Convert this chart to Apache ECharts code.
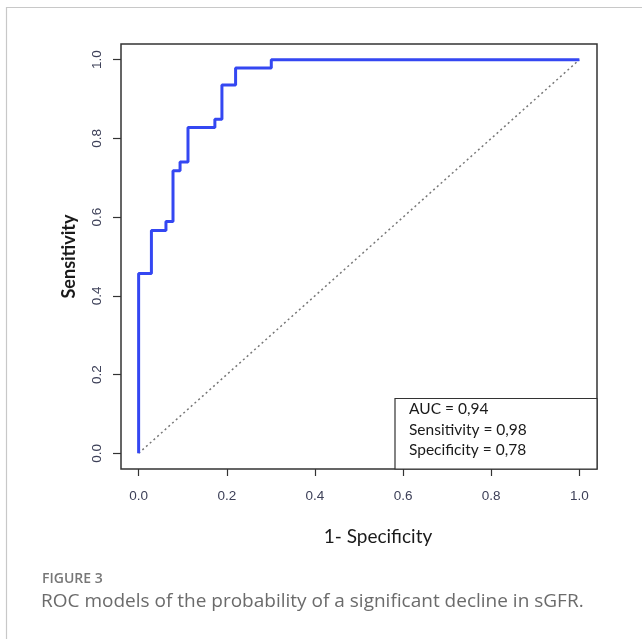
<!DOCTYPE html>
<html>
<head>
<meta charset="utf-8">
<script src="https://cdn.jsdelivr.net/npm/echarts@6/dist/echarts.min.js"></script>
<style>
html,body{margin:0;padding:0;background:#fff;}
#chart{width:642px;height:639px;}
</style>
</head>
<body>
<div id="chart"></div>
<script>
// ROC curve corner points (1 - specificity, sensitivity)
var fpr = [0, 0, 0.029, 0.029, 0.062, 0.062, 0.078, 0.078, 0.094, 0.094, 0.112, 0.112, 0.173, 0.173, 0.189, 0.189, 0.220, 0.220, 0.301, 0.301, 1.0];
var tpr = [0, 0.457, 0.457, 0.566, 0.566, 0.589, 0.589, 0.718, 0.718, 0.740, 0.740, 0.828, 0.828, 0.849, 0.849, 0.936, 0.936, 0.979, 0.979, 1.0, 1.0];
// reference diagonal
var diagX = [0, 1];
var diagY = [0, 1];
// tick values
var xTicks = [0, 0.2, 0.4, 0.6, 0.8, 1.0];
var yTicks = [0, 0.2, 0.4, 0.6, 0.8, 1.0];
var statsLines = ['AUC = 0,94', 'Sensitivity = 0,98', 'Specificity = 0,78'];

var rocData = fpr.map(function (x, i) { return [x, tpr[i]]; });
var diagData = diagX.map(function (x, i) { return [x, diagY[i]]; });

var chart = echarts.init(document.getElementById('chart'), null, {renderer: 'canvas'});
var tickColor = '#333';
var labelColor = '#3d4058';
chart.setOption({
  animation: false,
  backgroundColor: '#fff',
  grid: {left: 121, right: 45, top: 44, bottom: 170, show: true, borderColor: '#333', borderWidth: 1.5, containLabel: false},
  xAxis: {
    type: 'value', min: -0.04, max: 1.04,
    axisLine: {show: false, onZero: false},
    splitLine: {show: false},
    axisTick: {show: true, length: 7, customValues: xTicks, lineStyle: {color: tickColor, width: 1.2}},
    axisLabel: {customValues: xTicks, margin: 20, color: labelColor, fontFamily: 'Liberation Sans, Arial', fontSize: 13.5,
      formatter: function (v) { return v.toFixed(1); }},
    name: '1- Specificity', nameLocation: 'middle', nameGap: 58,
    nameTextStyle: {fontFamily: 'Lato', fontSize: 19, color: '#1a1a1a', padding: [0, 0, 0, 38]}
  },
  yAxis: {
    type: 'value', min: -0.04, max: 1.04,
    axisLine: {show: false, onZero: false},
    splitLine: {show: false},
    axisTick: {show: true, length: 8, customValues: yTicks, lineStyle: {color: tickColor, width: 1.2}},
    axisLabel: {customValues: yTicks, margin: 17, rotate: 90, color: labelColor, fontFamily: 'Liberation Sans, Arial', fontSize: 13.5,
      formatter: function (v) { return v.toFixed(1); }},
    name: 'Sensitivity', nameLocation: 'middle', nameGap: 35, nameRotate: 90,
    nameTextStyle: {fontFamily: 'Lato', fontSize: 18, fontWeight: 'bold', color: '#1a1a1a', padding: [0, 0, 8, 0]}
  },
  series: [
    {type: 'line', data: diagData, symbol: 'none', silent: true,
      lineStyle: {color: '#777', width: 1.5, type: [2, 3]}},
    {type: 'line', data: rocData, symbol: 'none', silent: true,
      lineStyle: {color: '#3447f2', width: 3}}
  ],
  graphic: [
    {type: 'line', shape: {x1: 6.5, y1: 7, x2: 6.5, y2: 639}, style: {stroke: '#c8c8c8', lineWidth: 1.2}},
    {type: 'line', shape: {x1: 6, y1: 7.5, x2: 642, y2: 7.5}, style: {stroke: '#c8c8c8', lineWidth: 1.2}},
    {type: 'rect', shape: {x: 395, y: 398.5, width: 202, height: 70.5}, style: {fill: '#fff', stroke: '#333', lineWidth: 1.2}},
    {type: 'text', left: 409, top: 401, style: {text: statsLines[0], font: '15.5px Lato', fill: '#1a1a1a'}},
    {type: 'text', left: 409, top: 422, style: {text: statsLines[1], font: '15.5px Lato', fill: '#1a1a1a'}},
    {type: 'text', left: 409, top: 442, style: {text: statsLines[2], font: '15.5px Lato', fill: '#1a1a1a'}},
    {type: 'text', left: 42, top: 572, style: {text: 'FIGURE 3', font: '600 14px "Open Sans"', fill: '#777'}},
    {type: 'text', left: 41, top: 592, style: {text: 'ROC models of the probability of a significant decline in sGFR.', font: '19px "Open Sans"', fill: '#6b6b6b'}}
  ]
});
</script>
</body>
</html>
